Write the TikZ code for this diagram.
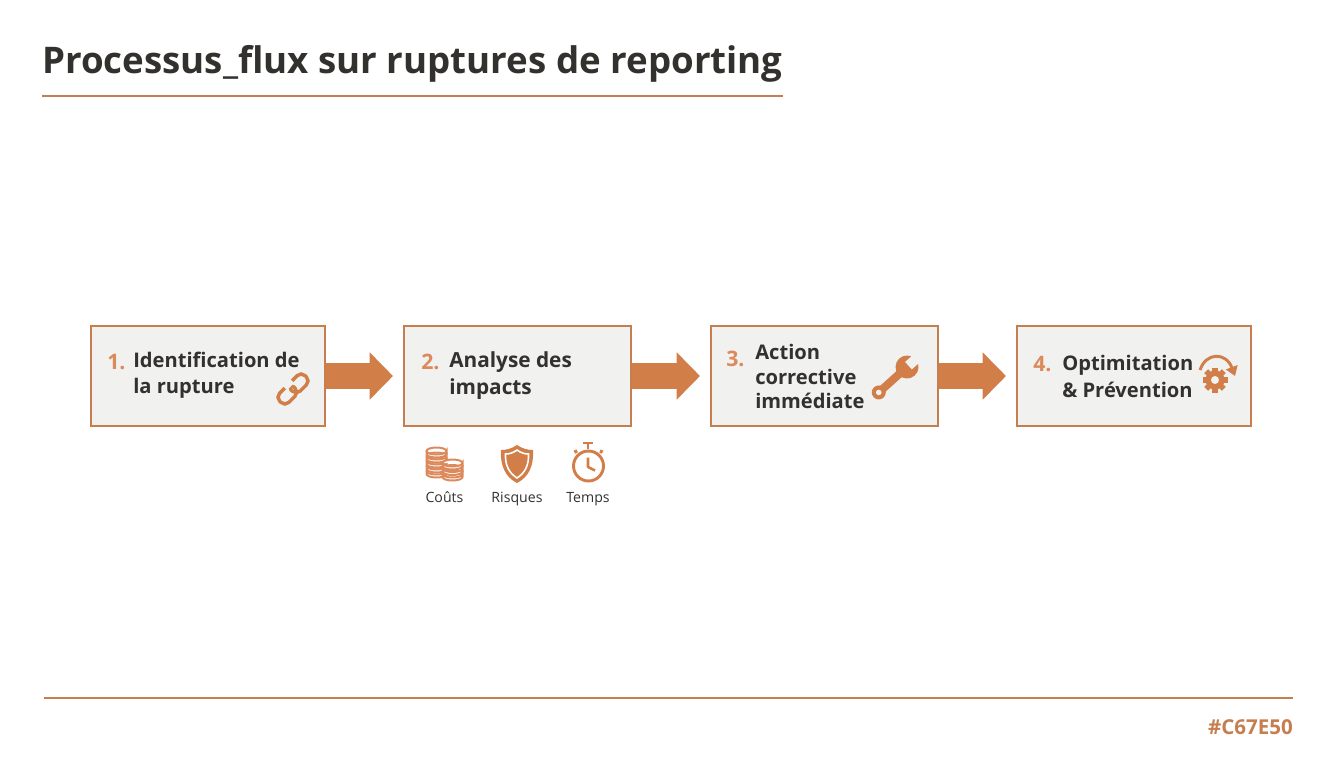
\documentclass[tikz,border=0pt]{standalone}
\usepackage{amsmath}
\usepackage{xcolor}
\usepackage{fontspec}
\setmainfont{Open Sans}
\usepackage{tikz}
\usetikzlibrary{arrows.meta}

\definecolor{rust}{HTML}{C67E50}
\definecolor{arrowrust}{HTML}{D17E48}
\definecolor{numrust}{HTML}{DC8A5C}
\definecolor{boxgrey}{HTML}{F1F1F0}
\definecolor{inkdark}{HTML}{33312E}

\tikzset{
	stepbox/.style={draw=rust,fill=boxgrey,line width=1.5pt,minimum height=75pt,inner sep=0pt},
	stepnum/.style={anchor=base west,inner sep=0pt,text=numrust,font=\fontsize{16pt}{20pt}\selectfont\bfseries},
	steptext/.style={anchor=west,inner sep=0pt,align=left,text=inkdark,font=\fontsize{15.1pt}{19.7pt}\selectfont\bfseries},
	smalltext/.style={anchor=base,inner sep=0pt,text=inkdark,font=\fontsize{10.6pt}{12pt}\selectfont},
	flow/.style={draw=arrowrust,line width=19.5pt,shorten >=7.5pt,-{Triangle[length=17.5pt,width=34.5pt]}},
	rulebar/.style={draw=rust,line width=2.2pt},
	icon/.style={draw=arrowrust,line width=2.2pt},
}

\begin{document}
\begin{tikzpicture}[x=0.75pt,y=-0.75pt]
	\useasboundingbox (0,0) rectangle (1344,768);

	% title
	\node[anchor=base west,inner sep=0pt,text=inkdark,font=\fontsize{27.5pt}{34pt}\selectfont\bfseries] (title) at (42,73) {Processus\_flux sur ruptures de reporting};
	\coordinate (titleL) at (42,96);
	\coordinate (titleR) at (783,96);
	\draw[rulebar] (titleL) -- (titleR);

	% boxes
	\node[stepbox,minimum width=175.5pt] (box1) at (208,376) {};
	\node[stepbox,minimum width=170.25pt] (box2) at (517.5,376) {};
	\node[stepbox,minimum width=170.25pt] (box3) at (824.5,376) {};
	\node[stepbox,minimum width=175.5pt] (box4) at (1134,376) {};

	% arrows
	\draw[flow] (box1) -- (box2);
	\draw[flow] (box2) -- (box3);
	\draw[flow] (box3) -- (box4);

	% texts
	\node[stepnum] (num1) at (107,369) {1.};
	\node[steptext] (text1) at (133,375.5) {Identification de\\la rupture};
	\node[stepnum] (num2) at (421,369) {2.};
	\node[steptext,font=\fontsize{15.6pt}{19.7pt}\selectfont\bfseries] (text2) at (449,375.5) {Analyse des\\impacts};
	\node[stepnum] (num3) at (726,366) {3.};
	\node[steptext,font=\fontsize{15.1pt}{18.7pt}\selectfont\bfseries] (text3) at (755,376.5) {Action\\corrective\\immédiate};
	\node[stepnum] (num4) at (1033,371) {4.};
	\node[steptext] (text4) at (1062,376.5) {Optimitation\\\& Prévention};

	% link
	\begin{scope}[shift={(293,389)},rotate=45]
		\draw[icon,line width=2.6pt,rounded corners=4.2pt] (-18,-6.5) rectangle (2,6.5);
		\draw[icon,line width=2.6pt,rounded corners=4.2pt] (-2,-6.5) rectangle (18,6.5);
		\fill[boxgrey] (-5,-10) rectangle (5,-3.5);
	\end{scope}

	% wrench
	\begin{scope}[shift={(907,367)},rotate=42]
		\fill[arrowrust] (-38,-4) -- (-4,-4) -- (-4,4) -- (-38,4) -- cycle;
		\fill[arrowrust] (0,0) circle (11.5);
		\fill[arrowrust] (-38,0) circle (7);
		\fill[boxgrey] (-38,0) circle (2.8);
		\fill[boxgrey] (2,-5) rectangle (14,5);
	\end{scope}

	% gear and turn
	\begin{scope}[shift={(1215,380)}]
		\foreach \ang in {0,45,...,315}
			\fill[arrowrust,rotate=\ang] (-2.8,-12.5) rectangle (2.8,0);
		\fill[arrowrust] (0,0) circle (9.5);
		\fill[boxgrey] (0,0) circle (4);
	\end{scope}
	\coordinate (turnA) at (1200,370);
	\coordinate (turnB) at (1235,376);
	\draw[icon,-{Triangle[length=7pt,width=9pt]}] (turnA) .. controls (1206,352) and (1226,352) .. (turnB);

	% coins
	\foreach \cx/\cy/\n/\gap in {436.5/451/5/5,452.5/463/3/5.5} {
		\foreach \k in {1,...,\n} {
			\pgfmathsetmacro{\yy}{\cy+(\n-\k)*\gap}
			\draw[draw=numrust,fill=white,line width=1.5pt] (\cx-10,\yy) -- (\cx-10,\yy+3) arc[start angle=180,end angle=0,x radius=10,y radius=3.5] -- (\cx+10,\yy) arc[start angle=0,end angle=360,x radius=10,y radius=3.5];
		}
	}
	\node[smalltext] (couts) at (444.5,502) {Coûts};

	% shield
	\fill[arrowrust] (517,445) .. controls (523,449) and (528,450) .. (533,450) .. controls (534,465) and (529,477) .. (517,483) .. controls (505,477) and (500,465) .. (501,450) .. controls (506,450) and (511,449) .. (517,445) -- cycle;
	\draw[white,line width=1.2pt] (517,450) .. controls (521,453) and (525,454) .. (528.5,454) .. controls (529,465) and (525,473) .. (517,478) .. controls (509,473) and (505,465) .. (505.5,454) .. controls (509,454) and (513,453) .. (517,450) -- cycle;
	\node[smalltext] (risques) at (517,502) {Risques};

	% stopwatch
	\draw[icon] (588.5,466) circle (15);
	\draw[icon] (588,449) -- (588,444);
	\draw[icon] (583,443) -- (593,443);
	\draw[icon] (576.5,453) -- (575,450);
	\draw[icon] (600.5,453) -- (602,450);
	\draw[icon,line width=1.9pt,line join=round] (588,457.5) -- (588,467) -- (595,470.5);
	\node[smalltext] (temps) at (588,502) {Temps};

	% footer
	\coordinate (footL) at (44,698);
	\coordinate (footR) at (1293,698);
	\draw[rulebar] (footL) -- (footR);
	\node[anchor=base east,inner sep=0pt,text=rust,font=\fontsize{15.4pt}{18pt}\selectfont\bfseries] (hexcode) at (1293,734) {\#C67E50};
\end{tikzpicture}
\end{document}
